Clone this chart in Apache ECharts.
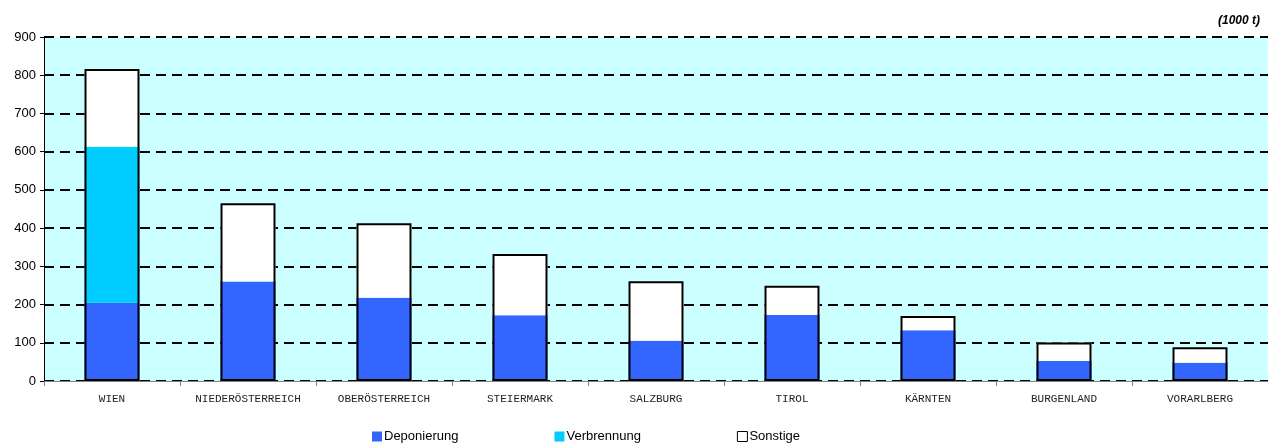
<!DOCTYPE html>
<html>
<head>
<meta charset="utf-8">
<script src="https://cdn.jsdelivr.net/npm/echarts@6/dist/echarts.min.js"></script>
<style>
html,body{margin:0;padding:0;background:#fff;}
#c{width:1268px;height:444px;}
</style>
</head>
<body>
<div id="c"></div>
<script>
const categories = ['WIEN','NIEDERÖSTERREICH','OBERÖSTERREICH','STEIERMARK','SALZBURG','TIROL','KÄRNTEN','BURGENLAND','VORARLBERG'];
const deponierung = [205, 260, 218, 172, 105, 173, 133, 52, 48];
const verbrennung = [408, 0, 0, 0, 0, 0, 0, 0, 0];
const sonstige = [203, 205, 195, 160, 156, 76, 37, 49, 40];
const yTicks = [0, 100, 200, 300, 400, 500, 600, 700, 800, 900];
const unitLabel = '(1000 t)';

const totals = categories.map((_, i) => deponierung[i] + verbrennung[i] + sonstige[i]);

const chart = echarts.init(document.getElementById('c'), null, {renderer: 'canvas'});
const BW = 55;
chart.setOption({
  animation: false,
  backgroundColor: '#ffffff',
  title: {
    text: unitLabel,
    right: 3,
    top: 10,
    textStyle: {fontFamily: 'Liberation Sans, Arial', fontSize: 12, fontWeight: 'bold', fontStyle: 'italic', color: '#000'}
  },
  grid: {
    left: 44, right: 0, top: 37, bottom: 63,
    show: true, backgroundColor: '#CCFFFF', borderWidth: 0
  },
  legend: {
    data: [
      {name: 'Deponierung'},
      {name: 'Verbrennung'},
      {name: 'Sonstige', itemStyle: {color: '#ffffff', borderColor: '#000', borderWidth: 1}}
    ],
    left: 367,
    top: 425,
    itemWidth: 10,
    itemHeight: 10,
    itemGap: 96,
    icon: 'rect',
    textStyle: {fontFamily: 'Liberation Sans, Arial', fontSize: 13, color: '#000', padding: [0,0,0,-3]}
  },
  xAxis: {
    type: 'category',
    data: categories,
    axisLine: {lineStyle: {color: '#808080', width: 1}},
    axisTick: {show: true, interval: 0, length: 5, lineStyle: {color: '#808080'}},
    axisLabel: {
      interval: 0,
      margin: 13,
      fontFamily: 'Liberation Mono, DejaVu Sans Mono, monospace',
      fontSize: 11,
      color: '#222'
    },
    splitLine: {show: false}
  },
  yAxis: {
    type: 'value',
    min: 0, max: 900, interval: 100,
    axisLine: {show: true, lineStyle: {color: '#000', width: 1}},
    axisTick: {show: true, length: 4, lineStyle: {color: '#000'}},
    axisLabel: {
      margin: 8,
      fontFamily: 'Liberation Sans, Arial',
      fontSize: 13,
      color: '#000',
      formatter: v => yTicks.includes(v) ? String(v) : ''
    },
    splitLine: {show: true, lineStyle: {color: '#000', width: 2, type: [10, 6]}}
  },
  series: [
    {name: 'Deponierung', type: 'bar', stack: 'a', barWidth: BW, data: deponierung, itemStyle: {color: '#3366FF'}},
    {name: 'Verbrennung', type: 'bar', stack: 'a', barWidth: BW, data: verbrennung, itemStyle: {color: '#00CCFF'}},
    {name: 'Sonstige', type: 'bar', stack: 'a', barWidth: BW, data: sonstige, itemStyle: {color: '#ffffff'}},
    {name: 'Gesamt', type: 'bar', barWidth: BW, barGap: '-100%', data: totals, z: 5,
     itemStyle: {color: 'rgba(0,0,0,0)', borderColor: '#000', borderWidth: 2}, silent: true}
  ]
});
</script>
</body>
</html>
